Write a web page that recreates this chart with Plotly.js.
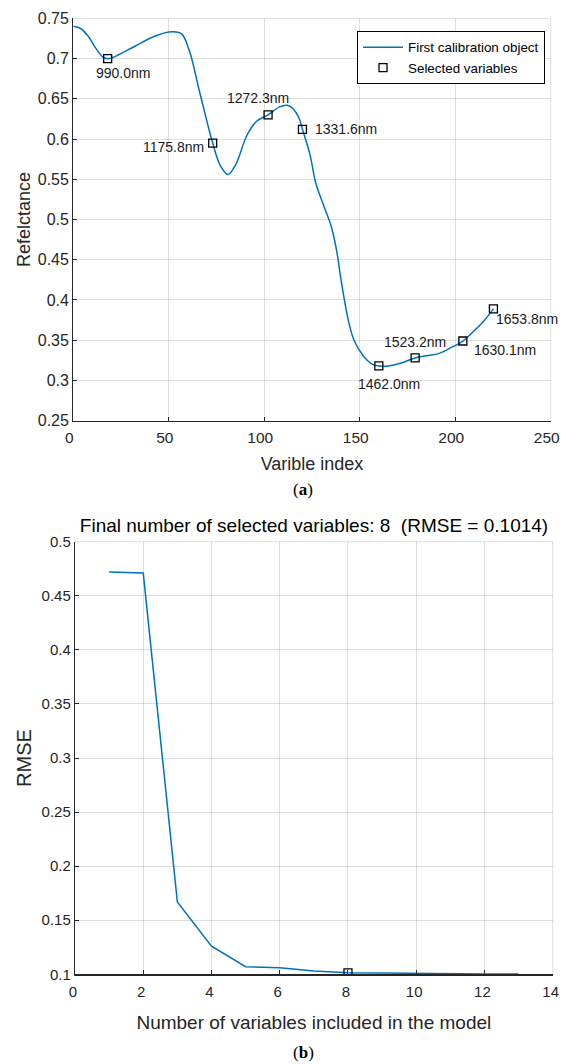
<!DOCTYPE html>
<html>
<head>
<meta charset="utf-8">
<script src="https://cdn.plot.ly/plotly-3.0.1.min.js"></script>
<style>
html,body{margin:0;padding:0;background:#fff;}
#chart{width:561px;height:1064px;}
</style>
</head>
<body>
<div id="chart"></div>
<script>
// ---- Data: (a) reflectance spectrum ----
const specIndex = [0,4,8,12,16,19,24,32,42,50,54,57,61,66,73,77,81,85,91,96,102,108,112,115,118,120,124,127,131,135,138,140,144,147,152,156,160,165,172,179,186,192,198,204,210,215,220];
const specRefl  = [0.740,0.737,0.727,0.712,0.701,0.700,0.705,0.715,0.727,0.733,0.733,0.730,0.708,0.660,0.595,0.567,0.556,0.568,0.605,0.622,0.630,0.640,0.642,0.638,0.627,0.612,0.580,0.545,0.518,0.492,0.460,0.428,0.375,0.350,0.330,0.321,0.318,0.318,0.322,0.328,0.331,0.334,0.341,0.349,0.362,0.374,0.389];
const selIndex  = [18,73,102,120,160,179,204,220];
const selRefl   = [0.700,0.595,0.630,0.612,0.318,0.328,0.349,0.389];
const selLabels = ["990.0nm","1175.8nm","1272.3nm","1331.6nm","1462.0nm","1523.2nm","1630.1nm","1653.8nm"];

// ---- Data: (b) RMSE vs number of variables ----
const nVars = [1,2,3,4,5,6,7,8,9,10,11,12,13];
const rmse  = [0.472,0.471,0.167,0.126,0.107,0.106,0.103,0.1014,0.1012,0.1008,0.1003,0.1002,0.1003];
const finalN = [8];
const finalRmse = [0.1014];

// label placement (text offset from its marker, px)
const labelPlace = [
  {xa:'center', dx:15,  dy:-14},
  {xa:'right',  dx:-7,  dy:-4},
  {xa:'center', dx:-10, dy:17},
  {xa:'left',   dx:11,  dy:0},
  {xa:'center', dx:10,  dy:-18},
  {xa:'center', dx:0,   dy:16},
  {xa:'left',   dx:9,   dy:-9},
  {xa:'left',   dx:1,   dy:-10}
];

const FONT = '"Liberation Sans", Arial, sans-serif';
const BLUE = '#0072BD';
const GRID = 'rgba(0,0,0,0.13)';
const AX = '#262626';

const traces = [
  {x: specIndex, y: specRefl, type:'scatter', mode:'lines', name:'First calibration object',
   line:{color:BLUE, width:1.5, shape:'spline', smoothing:1}, xaxis:'x', yaxis:'y'},
  {x: selIndex, y: selRefl, type:'scatter', mode:'markers', name:'Selected variables',
   marker:{symbol:'square-open', size:8, color:'#000', line:{width:1.3, color:'#000'}}, xaxis:'x', yaxis:'y'},
  {x: nVars, y: rmse, type:'scatter', mode:'lines', showlegend:false,
   line:{color:BLUE, width:1.5}, xaxis:'x2', yaxis:'y2'},
  {x: finalN, y: finalRmse, type:'scatter', mode:'markers', showlegend:false,
   marker:{symbol:'square-open', size:8, color:'#000', line:{width:1.3, color:'#000'}}, xaxis:'x2', yaxis:'y2'}
];

const annotations = selLabels.map((t,i)=>({
  x: selIndex[i], y: selRefl[i], xref:'x', yref:'y', text:t, showarrow:false,
  xanchor: labelPlace[i].xa, yanchor:'middle', xshift: labelPlace[i].dx, yshift: labelPlace[i].dy,
  font:{family:FONT, size:14, color:'#1a1a1a'}
}));
annotations.push({x:303/561, y:1-489/1064, xref:'paper', yref:'paper', text:'(<b>a</b>)', showarrow:false,
  xanchor:'center', yanchor:'middle', font:{family:'"Liberation Serif","DejaVu Serif",serif', size:17, color:'#000'}});
annotations.push({x:303/561, y:1-1052/1064, xref:'paper', yref:'paper', text:'(<b>b</b>)', showarrow:false,
  xanchor:'center', yanchor:'middle', font:{family:'"Liberation Serif","DejaVu Serif",serif', size:17, color:'#000'}});

// far-edge grid lines (top and right) of each panel
const shapes = [];
[['x','y'],['x2','y2']].forEach(([xa,ya])=>{
  shapes.push({type:'line', xref:xa+' domain', yref:ya+' domain', x0:0, x1:1, y0:1, y1:1, layer:'below', line:{color:GRID, width:1}});
  shapes.push({type:'line', xref:xa+' domain', yref:ya+' domain', x0:1, x1:1, y0:0, y1:1, layer:'below', line:{color:GRID, width:1}});
});

function axis(extra){
  return Object.assign({
    showgrid:true, gridcolor:GRID, gridwidth:1, zeroline:false,
    showline:true, linecolor:AX, linewidth:1.2, mirror:false,
    ticks:'inside', ticklen:4, tickcolor:AX, tickwidth:1,
    ticklabeloverflow:'allow',
    automargin:false, fixedrange:true
  }, extra);
}

const layout = {
  width:561, height:1064,
  margin:{l:0,r:0,t:0,b:0},
  paper_bgcolor:'#fff', plot_bgcolor:'#fff',
  font:{family:FONT, color:'#262626'},
  showlegend:true,
  legend:{x:545/561, y:1-31/1064, xanchor:'right', yanchor:'top', bgcolor:'#fff',
    bordercolor:'#000', borderwidth:1, font:{family:FONT, size:13.4, color:'#000'},
    itemwidth:40, tracegroupgap:0},
  title:{text:'Final number of selected variables: 8 \u00a0(RMSE = 0.1014)', x:314/561, xanchor:'center',
    y:1-525/1064, yanchor:'middle', font:{family:FONT, size:19, color:'#000'}},
  xaxis: axis({domain:[73.3/561, 550.7/561], range:[0,250], dtick:50, tick0:0, anchor:'y',
    tickfont:{size:15.5, color:'#262626'}, ticklabelstandoff:2, ticklabelshift:-4,
    title:{text:'Varible index', font:{size:18, color:'#262626'}, standoff:12}}),
  yaxis: axis({domain:[1-420.7/1064, 1-18.3/1064], range:[0.25,0.75], dtick:0.05, tick0:0.25, anchor:'x',
    tickfont:{size:16, color:'#262626'},
    title:{text:'Refelctance', font:{size:18, color:'#262626'}, standoff:2}}),
  xaxis2: axis({domain:[75/561, 552.7/561], range:[0,14], dtick:2, tick0:0, anchor:'y2',
    tickfont:{size:15, color:'#262626'}, ticklabelstandoff:3, ticklabelshift:-2,
    title:{text:'Number of variables included in the model', font:{size:19, color:'#262626'}, standoff:17}}),
  yaxis2: axis({domain:[1-974.3/1064, 1-541.7/1064], range:[0.1,0.5], dtick:0.05, tick0:0.1, anchor:'x2',
    tickfont:{size:15, color:'#262626'},
    title:{text:'RMSE', font:{size:20, color:'#262626'}, standoff:4}}),
  annotations: annotations,
  shapes: shapes
};

Plotly.newPlot('chart', traces, layout, {displayModeBar:false, staticPlot:true});
</script>
</body>
</html>
